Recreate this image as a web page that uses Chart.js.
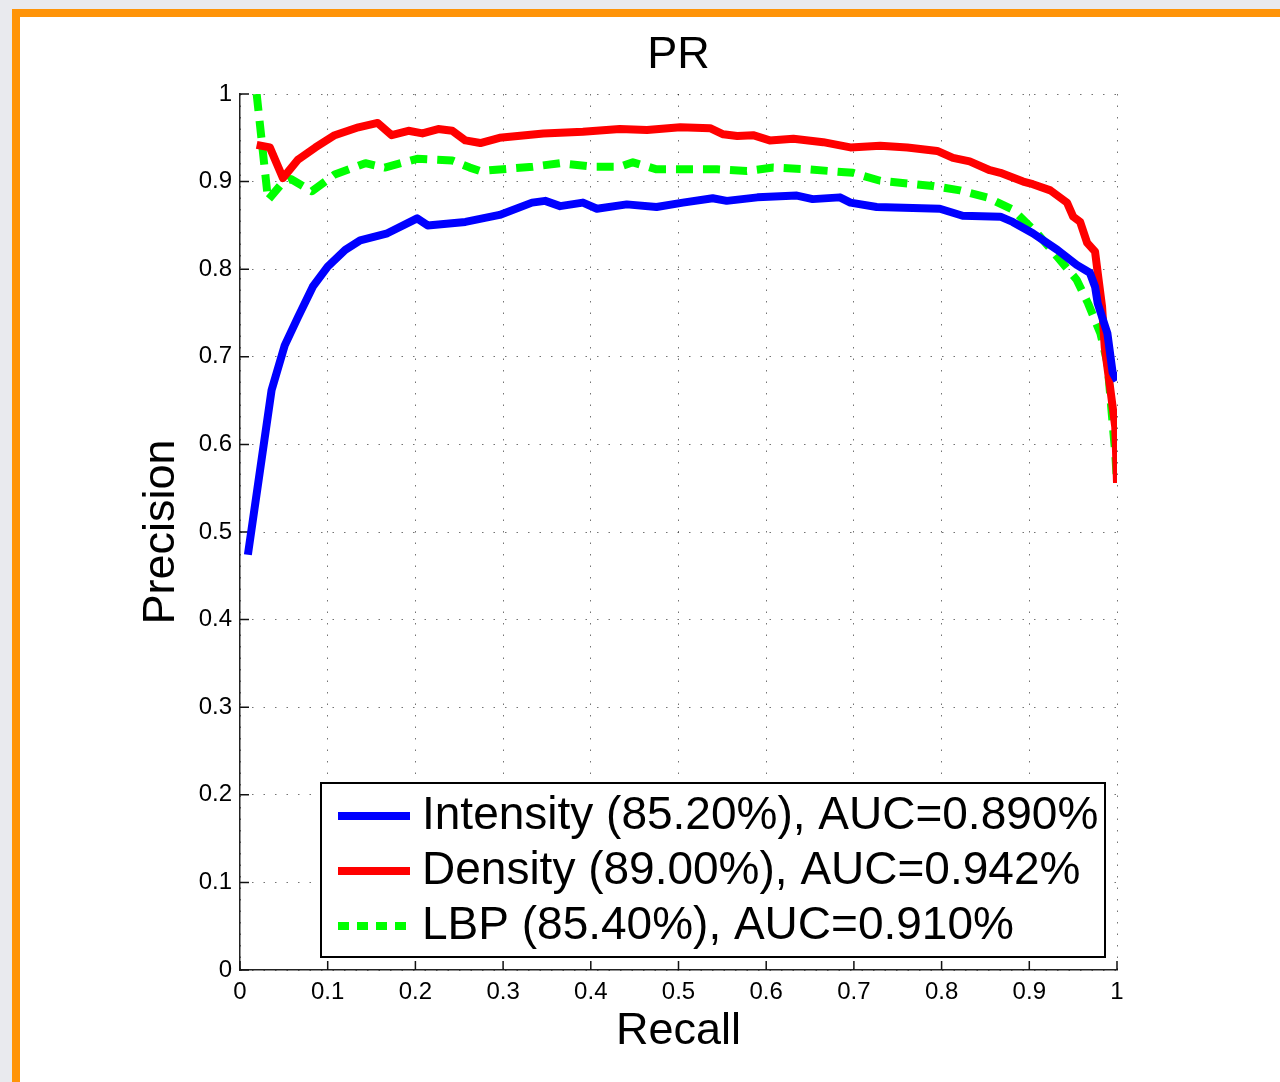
<!DOCTYPE html>
<html>
<head>
<meta charset="utf-8">
<title>PR</title>
<script src="https://cdn.jsdelivr.net/npm/chart.js@4/dist/chart.umd.min.js"></script>
<style>
  body { margin: 0; background: #e9eaee; overflow: hidden; }
  #frame {
    position: absolute; left: 12px; top: 9px; width: 1268px; height: 1073px;
    border-left: 8px solid #ff9408; border-top: 8px solid #ff9408;
    background: #fff;
  }
  #pr { position: absolute; left: 0; top: 0; }
</style>
</head>
<body>
<div id="frame"></div>
<canvas id="pr" width="1280" height="1082"></canvas>
<script>
// valores
const intensityRecall = [0.009, 0.036, 0.051, 0.066, 0.083, 0.100, 0.120, 0.137, 0.168, 0.202, 0.214, 0.257, 0.296, 0.333, 0.348, 0.365, 0.391, 0.407, 0.441, 0.475, 0.505, 0.539, 0.555, 0.590, 0.635, 0.653, 0.684, 0.696, 0.726, 0.798, 0.824, 0.867, 0.881, 0.904, 0.932, 0.954, 0.969, 0.975, 0.978, 0.989, 0.995, 1.0];
const intensityPrecision = [0.474, 0.662, 0.713, 0.745, 0.780, 0.803, 0.822, 0.833, 0.841, 0.858, 0.850, 0.854, 0.862, 0.876, 0.878, 0.872, 0.876, 0.869, 0.874, 0.871, 0.876, 0.881, 0.878, 0.882, 0.884, 0.880, 0.882, 0.876, 0.871, 0.869, 0.861, 0.860, 0.854, 0.841, 0.822, 0.805, 0.796, 0.780, 0.761, 0.727, 0.682, 0.673];

const densityRecall = [0.019, 0.034, 0.049, 0.066, 0.086, 0.108, 0.135, 0.157, 0.173, 0.192, 0.208, 0.226, 0.242, 0.257, 0.274, 0.296, 0.346, 0.391, 0.433, 0.464, 0.502, 0.536, 0.551, 0.567, 0.585, 0.604, 0.631, 0.665, 0.696, 0.730, 0.761, 0.795, 0.813, 0.832, 0.855, 0.867, 0.893, 0.904, 0.924, 0.943, 0.950, 0.958, 0.966, 0.975, 0.978, 0.983, 0.986, 0.992, 0.998, 1.0];
const densityPrecision = [0.942, 0.939, 0.904, 0.925, 0.939, 0.953, 0.962, 0.967, 0.953, 0.958, 0.955, 0.960, 0.958, 0.947, 0.944, 0.950, 0.955, 0.957, 0.960, 0.959, 0.962, 0.961, 0.954, 0.952, 0.953, 0.947, 0.949, 0.945, 0.939, 0.941, 0.939, 0.935, 0.927, 0.923, 0.913, 0.910, 0.900, 0.897, 0.890, 0.876, 0.860, 0.854, 0.830, 0.820, 0.796, 0.757, 0.711, 0.666, 0.620, 0.556];

const lbpRecall = [0.019, 0.032, 0.048, 0.058, 0.082, 0.108, 0.143, 0.165, 0.202, 0.242, 0.262, 0.274, 0.334, 0.365, 0.403, 0.433, 0.448, 0.475, 0.544, 0.578, 0.608, 0.647, 0.699, 0.730, 0.790, 0.821, 0.852, 0.881, 0.909, 0.932, 0.954, 0.967, 0.981, 0.989, 0.992, 0.995, 0.998, 1.0];
const lbpPrecision = [1.0, 0.879, 0.898, 0.903, 0.889, 0.908, 0.921, 0.916, 0.926, 0.924, 0.916, 0.912, 0.917, 0.921, 0.917, 0.917, 0.922, 0.914, 0.914, 0.912, 0.916, 0.914, 0.910, 0.901, 0.895, 0.890, 0.882, 0.868, 0.841, 0.814, 0.788, 0.761, 0.727, 0.693, 0.659, 0.624, 0.590, 0.556];

const seriesNames = ['Intensity (85.20%), AUC=0.890%', 'Density (89.00%), AUC=0.942%', 'LBP (85.40%), AUC=0.910%'];
const tickValues = [0, 0.1, 0.2, 0.3, 0.4, 0.5, 0.6, 0.7, 0.8, 0.9, 1];
const tickLabels = ['0', '0.1', '0.2', '0.3', '0.4', '0.5', '0.6', '0.7', '0.8', '0.9', '1'];

const FONT = '"Liberation Sans", Arial, Helvetica, sans-serif';

function puntos(xs, ys) {
  return xs.map((x, i) => ({ x: x, y: ys[i] }));
}

// marcas de tick hacia adentro, como en matlab
const ticksAdentro = {
  id: 'ticksAdentro',
  beforeDatasetsDraw(chart) {
    const ctx = chart.ctx;
    const xs = chart.scales.x, ys = chart.scales.y;
    const a = chart.chartArea;
    ctx.save();
    ctx.strokeStyle = '#111';
    ctx.lineWidth = 1.5;
    ctx.beginPath();
    tickValues.forEach(v => {
      const px = xs.getPixelForValue(v);
      ctx.moveTo(px, a.bottom);
      ctx.lineTo(px, a.bottom - 9);
      const py = ys.getPixelForValue(v);
      ctx.moveTo(a.left, py);
      ctx.lineTo(a.left + 9, py);
    });
    ctx.stroke();
    ctx.restore();
  }
};

// leyenda con recuadro dentro del área
const leyenda = {
  id: 'leyenda',
  afterDraw(chart) {
    const ctx = chart.ctx;
    const a = chart.chartArea;
    const left = a.left + 81, top = a.top + 689, w = 784, h = 174;
    ctx.save();
    ctx.fillStyle = '#fff';
    ctx.fillRect(left, top, w, h);
    ctx.strokeStyle = '#000';
    ctx.lineWidth = 2;
    ctx.strokeRect(left, top, w, h);
    ctx.font = '46px ' + FONT;
    ctx.textBaseline = 'middle';
    ctx.fillStyle = '#000';
    chart.data.datasets.forEach((ds, i) => {
      const y = top + 33 + i * 55;
      ctx.beginPath();
      ctx.strokeStyle = ds.borderColor;
      ctx.lineWidth = ds.borderWidth;
      ctx.setLineDash(ds.borderDash ? [11, 8] : []);
      ctx.moveTo(left + 17, y);
      ctx.lineTo(left + 89, y);
      ctx.stroke();
      ctx.setLineDash([]);
      ctx.fillText(ds.label, left + 101, y);
    });
    ctx.restore();
  }
};

const ctx = document.getElementById('pr').getContext('2d');
new Chart(ctx, {
  type: 'scatter',
  data: {
    datasets: [
      {
        label: seriesNames[0],
        data: puntos(intensityRecall, intensityPrecision),
        borderColor: '#0000ff',
        borderWidth: 8
      },
      {
        label: seriesNames[1],
        data: puntos(densityRecall, densityPrecision),
        borderColor: '#ff0000',
        borderWidth: 8
      },
      {
        label: seriesNames[2],
        data: puntos(lbpRecall, lbpPrecision),
        borderColor: '#00ff00',
        borderWidth: 8,
        borderDash: [17, 10]
      }
    ]
  },
  options: {
    responsive: false,
    animation: false,
    showLine: true,
    elements: {
      point: { radius: 0, hoverRadius: 0 },
      line: { tension: 0, borderJoinStyle: 'round', fill: false }
    },
    layout: { padding: { left: 0, right: 163, top: 0, bottom: 0 } },
    plugins: {
      legend: { display: false },
      tooltip: { enabled: false },
      title: {
        display: true,
        text: 'PR',
        fullSize: false,
        color: '#000',
        font: { family: FONT, size: 45, weight: 'normal' },
        padding: { top: 29, bottom: 11 }
      }
    },
    scales: {
      x: {
        type: 'linear',
        min: 0,
        max: 1,
        afterFit(s) { s.height = 112; },
        afterBuildTicks(s) { s.ticks = tickValues.map(v => ({ value: v })); },
        ticks: {
          autoSkip: false,
          maxRotation: 0,
          padding: 8,
          color: '#000',
          font: { family: FONT, size: 24 },
          callback: (v, i) => tickLabels[i]
        },
        grid: { color: 'rgba(0,0,0,0.55)', lineWidth: 1, drawTicks: false },
        border: { display: true, color: '#222', width: 1.5, dash: [1.5, 10] },
        title: {
          display: true,
          text: 'Recall',
          color: '#000',
          font: { family: FONT, size: 45 },
          padding: { top: 0, bottom: 23 }
        }
      },
      y: {
        type: 'linear',
        min: 0,
        max: 1,
        afterFit(s) { s.width = 240; },
        afterBuildTicks(s) { s.ticks = tickValues.map(v => ({ value: v })); },
        ticks: {
          autoSkip: false,
          padding: 8,
          color: '#000',
          font: { family: FONT, size: 24 },
          callback: (v, i) => tickLabels[i]
        },
        grid: { color: 'rgba(0,0,0,0.55)', lineWidth: 1, drawTicks: false },
        border: { display: true, color: '#222', width: 1.5, dash: [1.5, 10] },
        title: {
          display: true,
          text: 'Precision',
          color: '#000',
          font: { family: FONT, size: 45 },
          padding: { top: 135, bottom: 0 }
        }
      }
    }
  },
  plugins: [ticksAdentro, leyenda]
});
</script>
</body>
</html>
